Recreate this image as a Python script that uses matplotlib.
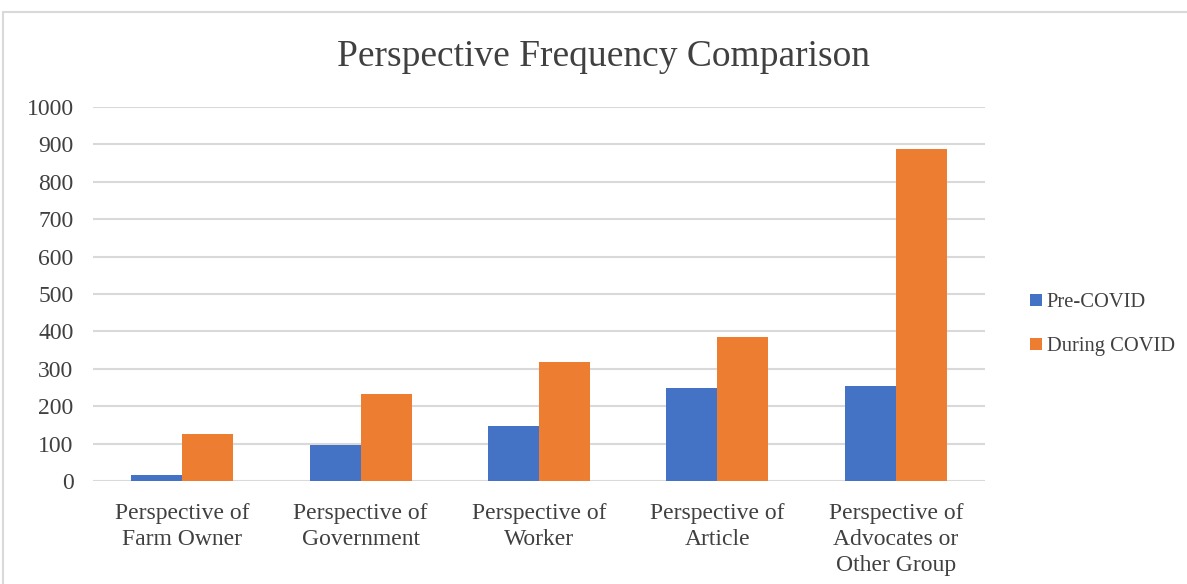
import matplotlib.pyplot as plt
import numpy as np
from matplotlib.patches import Rectangle

plt.rcParams['font.family'] = ['Liberation Serif', 'DejaVu Serif']

# Data
categories = ['Perspective of\nFarm Owner', 'Perspective of\nGovernment', 'Perspective of\nWorker',
              'Perspective of\nArticle', 'Perspective of\nAdvocates or\nOther Group']
pre_covid = [16, 96, 147, 250, 253]
during_covid = [125, 232, 318, 385, 887]

x = np.arange(len(categories))
w = 0.286

fig = plt.figure(figsize=(11.87, 5.84), dpi=100)
# light frame around the chart area
fig.patches.append(Rectangle((3 / 1187, -0.05), 1.2, 1 - 12 / 584 + 0.05, transform=fig.transFigure,
                             fill=False, edgecolor='#d9d9d9', linewidth=1.5))
ax = fig.add_axes([93 / 1187, 103 / 584, 892 / 1187, 374 / 584])

ax.bar(x - w / 2, pre_covid, w, color='#4472C4', label='Pre-COVID', zorder=3)
ax.bar(x + w / 2, during_covid, w, color='#ED7D31', label='During COVID', zorder=3)

ax.set_xlim(-0.5, len(categories) - 0.5)
ax.set_ylim(0, 1000)
ax.set_yticks(range(0, 1001, 100))
ax.yaxis.grid(True, color='#d9d9d9', linewidth=1.5, zorder=0)
ax.set_axisbelow(True)
for s in ax.spines.values():
    s.set_visible(False)
ax.tick_params(axis='both', length=0, labelsize=17, colors='#404040')
ax.tick_params(axis='y', pad=14)
ax.tick_params(axis='x', pad=16)
ax.set_xticks(x)
ax.set_xticklabels(categories, linespacing=1.3)

fig.text(604 / 1187, 1 - 57 / 584, 'Perspective Frequency Comparison', ha='center', va='center',
         fontsize=27, color='#404040')

ax.legend(loc='center left', bbox_to_anchor=(1.03, 0.418), frameon=False, fontsize=14.8,
          handlelength=0.55, handleheight=0.55, handletextpad=0.25, labelspacing=1.2,
          labelcolor='#404040')

fig.savefig('out.png', dpi=100)
